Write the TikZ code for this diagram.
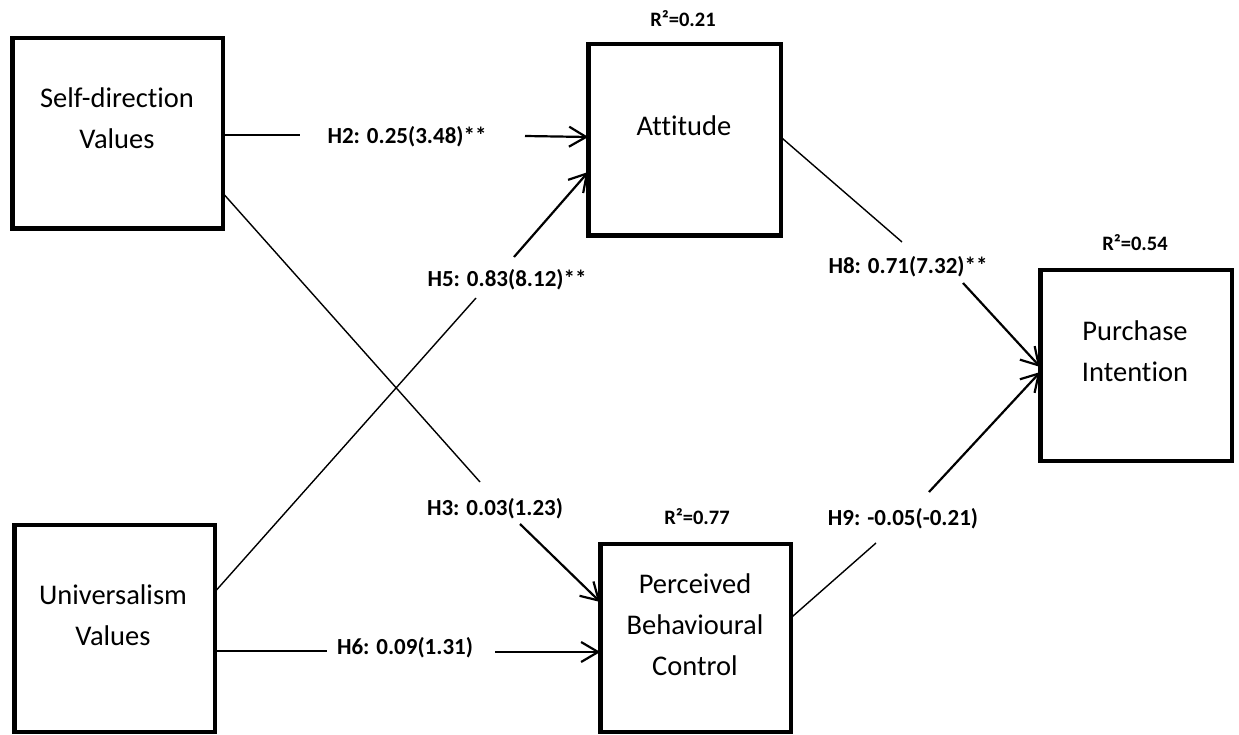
\documentclass[tikz,border=0pt]{standalone}
\usepackage{fontspec}
\setmainfont{Carlito}[Ligatures=NoCommon]
\usetikzlibrary{arrows.meta,calc}
\begin{document}
\begin{tikzpicture}[x=1pt,y=-1pt,
  box/.style={draw, line width=4.5pt, inner sep=0pt, outer sep=0pt},
  boxtext/.style={font=\fontsize{28.5}{41}\selectfont, align=center, inner sep=0pt},
  hlabel/.style={font=\fontsize{23}{27}\selectfont\bfseries, inner sep=0pt},
  rlabel/.style={font=\fontsize{20.5}{24}\selectfont\bfseries, inner sep=0pt},
  link/.style={line width=1.4pt},
  arr/.style={line width=2.2pt, -{Straight Barb[length=17pt,width=20pt]}}]
\useasboundingbox (0,0) rectangle (1239,735);
% boxes
\node[box, minimum width=210.5pt, minimum height=190.5pt] (sd) at (117.5,133.5) {};
\node[box, minimum width=192.5pt, minimum height=191.5pt] (att) at (684.5,140) {};
\node[box, minimum width=191.5pt, minimum height=190.5pt] (pi) at (1136,365.5) {};
\node[box, minimum width=200.5pt, minimum height=206.75pt] (uv) at (114.5,628.6) {};
\node[box, minimum width=190.5pt, minimum height=187.75pt] (pbc) at (695.5,638.1) {};
% box texts
\node[boxtext] (sdt) at (117,118.5) {Self-direction\\Values};
\node[boxtext] (attt) at (684,126) {Attitude};
\node[boxtext] (pit) at (1135,351.5) {Purchase\\Intention};
\node[boxtext] (uvt) at (113,615.5) {Universalism\\Values};
\node[boxtext] (pbct) at (695,625) {Perceived\\Behavioural\\Control};
% R squared
\node[rlabel] (r1) at (683,19) {R²=0.21};
\node[rlabel] (r2) at (1135,243) {R²=0.54};
\node[rlabel] (r3) at (697,517) {R²=0.77};
% path labels
\node[hlabel] (h2) at (407,137) {H2: 0.25(3.48)**};
\node[hlabel] (h5) at (507,280) {H5: 0.83(8.12)**};
\node[hlabel] (h3) at (495,509) {H3: 0.03(1.23)};
\node[hlabel] (h6) at (405,648) {H6: 0.09(1.31)};
\node[hlabel] (h8) at (908,267) {H8: 0.71(7.32)**};
\node[hlabel] (h9) at (903,519) {H9: -0.05(-0.21)};
% free ends
\coordinate (h2a) at (300,135);
\coordinate (h2b) at (525,136);
\coordinate (h5a) at (476,298);
\coordinate (h5b) at (514,257);
\coordinate (h3a) at (480,482);
\coordinate (h3b) at (520,524);
\coordinate (h6a) at (327,651);
\coordinate (h6b) at (495,652);
\coordinate (h8a) at (902,242);
\coordinate (h8b) at (963,283);
\coordinate (h9a) at (876,543);
\coordinate (h9b) at (929,492);
% connectors
\draw[link] ([yshift=-1.5pt]sd.east) -- (h2a);
\draw[arr] (h2b) -- ([yshift=3pt]att.west);
\draw[link] ([yshift=36.6pt]uv.east) -- (h5a);
\draw[arr] (h5b) -- ([yshift=-32pt]att.west);
\draw[link] ([yshift=-59.5pt]sd.east) -- (h3a);
\draw[arr] (h3b) -- ([yshift=36.1pt]pbc.west);
\draw[link] ([yshift=-22.4pt]uv.east) -- (h6a);
\draw[arr] (h6b) -- ([yshift=-13.9pt]pbc.west);
\draw[link] ([yshift=3pt]att.east) -- (h8a);
\draw[arr] (h8b) -- ([yshift=-1.5pt]pi.west);
\draw[link] ([yshift=20.1pt]pbc.east) -- (h9a);
\draw[arr] (h9b) -- ([yshift=-6.5pt]pi.west);
\end{tikzpicture}
\end{document}
